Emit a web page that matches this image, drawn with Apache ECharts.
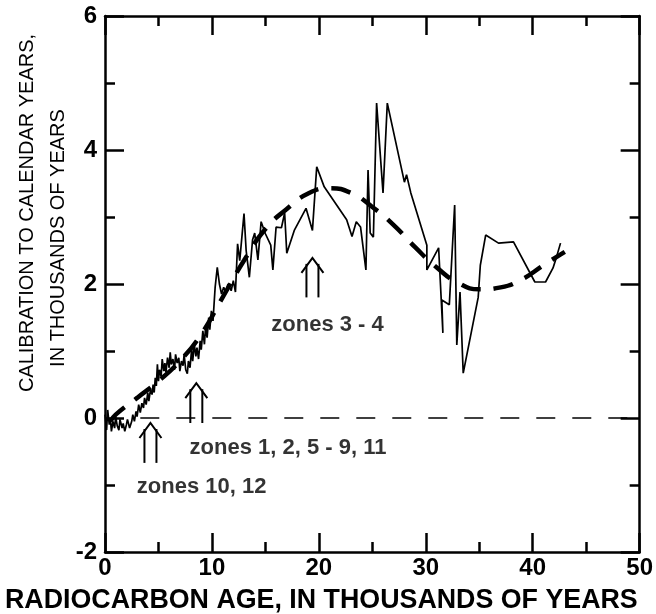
<!DOCTYPE html>
<html>
<head>
<meta charset="utf-8">
<script src="https://cdn.jsdelivr.net/npm/echarts@6/dist/echarts.min.js"></script>
<style>
html,body{margin:0;padding:0;background:#fff;}
#chart{width:656px;height:614px;}
</style>
</head>
<body>
<div id="chart"></div>
<script>
// Calibration curve (radiocarbon age kyr, calibration kyr)
const calibration = [
[0,0.05],[0.15,-0.18],[0.25,0.12],[0.4,-0.1],[0.5,0.0],[0.6,-0.2],[0.75,-0.05],[0.9,-0.15],[1.0,0.02],[1.15,-0.12],
[1.3,-0.18],[1.4,-0.02],[1.6,-0.15],[1.7,-0.08],[1.85,-0.2],[2.0,-0.1],[2.1,-0.02],[2.3,-0.15],[2.5,-0.05],[2.6,0.05],
[2.75,-0.05],[2.9,0.1],[3.0,0.02],[3.15,0.2],[3.3,0.08],[3.45,0.22],[3.6,0.15],[3.7,0.3],[3.85,0.2],[4.0,0.38],
[4.1,0.25],[4.25,0.42],[4.4,0.35],[4.5,0.5],[4.6,0.38],[4.7,0.6],[4.8,0.48],[4.9,0.8],[5.0,0.55],[5.1,0.72],
[5.25,0.62],[5.35,0.88],[5.5,0.7],[5.6,0.82],[5.7,0.68],[5.85,0.9],[6.0,0.75],[6.1,0.98],[6.2,0.8],[6.35,0.88],
[6.5,0.72],[6.6,0.95],[6.75,0.82],[6.9,0.9],[7.0,0.7],[7.15,0.85],[7.3,0.78],[7.4,0.95],[7.55,0.72],[7.7,0.66],
[7.8,0.85],[7.95,0.75],[8.1,1.02],[8.2,0.85],[8.35,1.1],[8.5,0.92],[8.6,1.05],[8.75,0.88],[8.9,1.15],[9.0,1.02],
[9.15,1.3],[9.3,1.1],[9.4,1.35],[9.55,1.2],[9.7,1.5],[9.8,1.32],[9.95,1.6],[10.1,1.45],[10.2,1.7],[10.3,1.95],
[10.4,2.1],[10.5,2.25],[10.7,2.0],[10.9,1.85],[11.1,1.95],[11.3,1.88],[11.5,2.0],[11.8,1.9],[12.0,2.05],[12.2,1.88],
[12.4,2.6],[12.6,2.35],[12.8,2.7],[13.0,3.05],[13.2,2.5],[13.5,2.1],[13.8,2.66],[14.0,2.76],[14.3,2.36],[14.6,2.93],
[15.0,2.75],[15.5,2.58],[15.7,2.21],[16.0,2.85],[16.5,2.84],[16.8,3.06],[17.0,2.46],[17.7,2.8],[18.8,3.13],[19.4,2.8],
[19.8,3.75],[20.5,3.45],[22.6,2.96],[23.1,2.71],[23.5,2.93],[23.9,2.85],[24.4,2.21],[24.6,3.7],[24.8,2.76],[25.1,2.7],
[25.4,4.7],[26.0,3.36],[26.4,4.7],[28.0,3.52],[28.2,3.63],[28.6,3.36],[30.1,2.58],[30.1,2.21],[31.2,2.54],[31.6,1.27],
[31.5,1.76],[32.2,1.69],[32.7,3.18],[32.9,1.09],[33.2,1.88],[33.5,0.67],[34.9,1.8],[35.1,2.28],[35.6,2.73],[36.8,2.61],
[38.2,2.63],[40.2,2.03],[41.2,2.03],[41.9,2.24],[42.2,2.39],[42.6,2.61]
];
// Smoothed trend (heavy dashed curve)
const trend = [
[0.5,-0.05],[1,0.05],[3,0.3],[5,0.55],[7,0.85],[9,1.25],[11,1.8],[13,2.35],[15,2.82],[17,3.12],[19,3.35],
[21,3.43],[23,3.36],[25,3.15],[27,2.88],[29,2.55],[31,2.25],[33,2.02],[35,1.92],[37,1.95],[39,2.07],[41,2.28],[43,2.48]
];
const zeroLine = [[3.3,0],[50,0]];
// arrows: x, base y, tip y
const arrows = [[4.25,-0.67,-0.075],[8.54,-0.075,0.52],[19.4,1.8,2.39]];
const zoneLabels = ['zones 10, 12','zones 1, 2, 5 - 9, 11','zones 3 - 4'];
const zoneLabelPos = [[2.98,-1.03],[7.91,-0.45],[15.55,1.39]];

const FONT = 'Liberation Sans, Arial, Helvetica, sans-serif';
const chart = echarts.init(document.getElementById('chart'));

const axisCommon = {
  axisLine:{show:true,onZero:false,lineStyle:{color:'#000',width:2.5}},
  axisTick:{show:true,inside:true,length:19,lineStyle:{color:'#000',width:2.5}},
  minorTick:{show:true,splitNumber:2,length:10,lineStyle:{color:'#000',width:2.5}},
  splitLine:{show:false}
};

chart.setOption({
  animation:false,
  grid:{left:105,right:14,top:16,bottom:62,containLabel:false},
  xAxis:[
    Object.assign({type:'value',min:0,max:50,interval:10,position:'bottom',
      axisLabel:{show:true,color:'#000',fontFamily:FONT,fontWeight:'bold',fontSize:24,margin:4}},axisCommon),
    Object.assign({type:'value',min:0,max:50,interval:10,position:'top',axisLabel:{show:false}},axisCommon)
  ],
  yAxis:[
    Object.assign({type:'value',min:-2,max:6,interval:2,position:'left',
      axisLabel:{show:true,color:'#000',fontFamily:FONT,fontWeight:'bold',fontSize:24,margin:8}},axisCommon),
    Object.assign({type:'value',min:-2,max:6,interval:2,position:'right',axisLabel:{show:false}},axisCommon)
  ],
  graphic:[
    {type:'text',left:5,top:587,style:{text:'RADIOCARBON AGE, IN THOUSANDS OF YEARS',font:'bold 26.8px '+FONT,fill:'#000'}},
    {type:'text',x:27,y:213,rotation:Math.PI/2,style:{text:'CALIBRATION TO CALENDAR YEARS,',font:'20px '+FONT,fill:'#000',align:'center',verticalAlign:'middle'}},
    {type:'text',x:58,y:238,rotation:Math.PI/2,style:{text:'IN THOUSANDS OF YEARS',font:'20px '+FONT,fill:'#000',align:'center',verticalAlign:'middle'}}
  ],
  series:[
    {type:'line',data:zeroLine,symbol:'none',silent:true,
      lineStyle:{color:'#000',width:1.5,type:[19,17]}},
    {type:'line',data:trend,symbol:'none',smooth:0.5,silent:true,
      lineStyle:{color:'#000',width:4.5,type:[20,13]}},
    {type:'line',data:calibration,symbol:'none',silent:true,
      lineStyle:{color:'#000',width:1.7}},
    {type:'custom',silent:true,data:arrows,encode:{x:0,y:[1,2]},
      renderItem:function(params,api){
        const b=api.coord([api.value(0),api.value(1)]);
        const t=api.coord([api.value(0),api.value(2)]);
        const cx=b[0], by=b[1], ty=t[1];
        const st={stroke:'#000',lineWidth:2,fill:null};
        return {type:'group',children:[
          {type:'line',shape:{x1:cx-6,y1:by,x2:cx-6,y2:ty+6},style:st},
          {type:'line',shape:{x1:cx+6,y1:by,x2:cx+6,y2:ty+6},style:st},
          {type:'polyline',shape:{points:[[cx-11,ty+15],[cx,ty],[cx+11,ty+15]]},style:st}
        ]};
      }},
    {type:'scatter',symbolSize:0,silent:true,
      data:zoneLabelPos.map((p,i)=>({value:p,name:zoneLabels[i]})),
      label:{show:true,position:'right',distance:0,formatter:'{b}',color:'#000',
        fontFamily:FONT,fontWeight:'bold',fontSize:22}}
  ]
});
</script>
</body>
</html>
